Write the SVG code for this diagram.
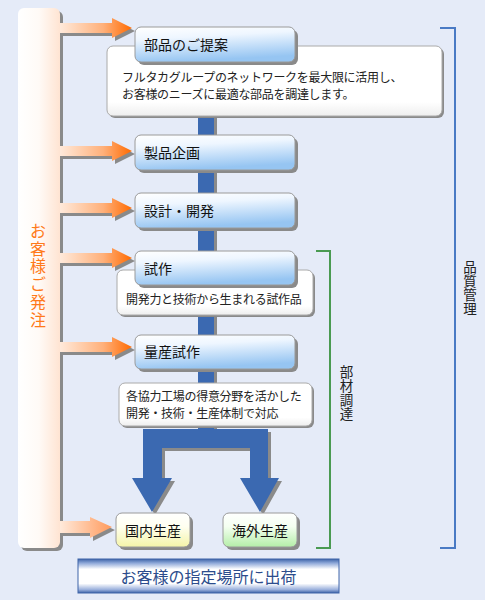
<svg xmlns="http://www.w3.org/2000/svg" xmlns:xlink="http://www.w3.org/1999/xlink" width="485" height="600" viewBox="0 0 485 600">
<defs>
<linearGradient id="gBar" x1="0" y1="0" x2="1" y2="0"><stop offset="0" stop-color="#ffffff"/><stop offset="0.5" stop-color="#fffaf6"/><stop offset="1" stop-color="#ffe4d2"/></linearGradient>
<linearGradient id="gArr" gradientUnits="userSpaceOnUse" x1="60" y1="0" x2="132" y2="0"><stop offset="0" stop-color="#ffeadb"/><stop offset="0.6" stop-color="#ffb07a"/><stop offset="1" stop-color="#ff6a00"/></linearGradient>
<linearGradient id="gArr2" gradientUnits="userSpaceOnUse" x1="60" y1="0" x2="112" y2="0"><stop offset="0" stop-color="#ffeadb"/><stop offset="1" stop-color="#ff9a5c"/></linearGradient>
<linearGradient id="gBox" x1="0" y1="0" x2="0.25" y2="1"><stop offset="0" stop-color="#ffffff"/><stop offset="0.35" stop-color="#eef6ff"/><stop offset="1" stop-color="#96c5f2"/></linearGradient>
<linearGradient id="gDesc" x1="0" y1="0" x2="0" y2="1"><stop offset="0" stop-color="#ffffff"/><stop offset="0.8" stop-color="#ffffff"/><stop offset="1" stop-color="#eeeeee"/></linearGradient>
<linearGradient id="gYel" x1="0" y1="0" x2="0" y2="1"><stop offset="0" stop-color="#ffffff"/><stop offset="0.4" stop-color="#fffff0"/><stop offset="1" stop-color="#f4f4a8"/></linearGradient>
<linearGradient id="gGrn" x1="0" y1="0" x2="0" y2="1"><stop offset="0" stop-color="#ffffff"/><stop offset="0.4" stop-color="#f4fff0"/><stop offset="1" stop-color="#b4eea8"/></linearGradient>
<linearGradient id="gBan" x1="0" y1="0" x2="0" y2="1"><stop offset="0" stop-color="#3e64a8"/><stop offset="0.12" stop-color="#8ea8d8"/><stop offset="0.3" stop-color="#ffffff"/><stop offset="0.72" stop-color="#ffffff"/><stop offset="0.9" stop-color="#9ab0dc"/><stop offset="1" stop-color="#3e64a8"/></linearGradient>
<path id="arr" d="M60,-5 H112 V-10 L132,0 L112,10 V5 H60 Z"/>
<path id="flow" d="M198,60 V429 H143 V478 H132 L152,512 L172,478 H162 V448 H250 V478 H240 L260,512 L279,478 H268 V429 H214 V60 Z"/>
</defs>
<style>
.box{fill:url(#gBox);stroke:#9a9a9a;stroke-width:1}
.desc{fill:url(#gDesc);stroke:#aaaaaa;stroke-width:1}
.sh{fill:#8a8a8a}
.lbl{font-family:"Noto Sans CJK JP",sans-serif;font-size:14px;fill:#111}
.dt{font-family:"Noto Sans CJK JP",sans-serif;font-size:12px;letter-spacing:-0.3px;fill:#222}
.vt{font-family:"Noto Sans CJK JP",sans-serif;font-size:13.5px;fill:#222;text-anchor:middle}
.ord{font-family:"Noto Sans CJK JP",sans-serif;font-size:16px;fill:#ff7a1a;text-anchor:middle}
</style>
<rect width="485" height="600" fill="#e5ebf8"/>

<g id="connectors">
<use xlink:href="#flow" href="#flow" x="3" y="3" fill="#8a8a8a"/>
<use xlink:href="#flow" href="#flow" fill="#3b69b1"/>
</g>

<g id="order">
<rect x="21" y="11" width="42" height="540" rx="6" class="sh"/>
<rect x="18" y="8" width="42" height="540" rx="6" fill="url(#gBar)"/>
<use xlink:href="#arr" href="#arr" x="3" y="31" fill="#8a8a8a"/>
<use xlink:href="#arr" href="#arr" y="28" fill="url(#gArr)"/>
<use xlink:href="#arr" href="#arr" x="3" y="154" fill="#8a8a8a"/>
<use xlink:href="#arr" href="#arr" y="151" fill="url(#gArr)"/>
<use xlink:href="#arr" href="#arr" x="3" y="211" fill="#8a8a8a"/>
<use xlink:href="#arr" href="#arr" y="208" fill="url(#gArr)"/>
<use xlink:href="#arr" href="#arr" x="3" y="261" fill="#8a8a8a"/>
<use xlink:href="#arr" href="#arr" y="258" fill="url(#gArr)"/>
<use xlink:href="#arr" href="#arr" x="3" y="350" fill="#8a8a8a"/>
<use xlink:href="#arr" href="#arr" y="347" fill="url(#gArr)"/>
<path d="M63,524 H93 V520 L115,530 L93,541 V536 H63 Z" class="sh"/>
<path d="M60,521 H90 V517 L112,527 L90,538 V533 H60 Z" fill="url(#gArr2)"/>
<text class="ord" x="38" y="237">お</text>
<text class="ord" x="38" y="254.7">客</text>
<text class="ord" x="38" y="272.4">様</text>
<text class="ord" x="38" y="290.1">ご</text>
<text class="ord" x="38" y="307.8">発</text>
<text class="ord" x="38" y="325.5">注</text>
</g>

<g id="desc1">
<rect x="109" y="48" width="335" height="70" rx="6" class="sh"/>
<rect x="107" y="46" width="335" height="70" rx="6" class="desc"/>
<text class="dt" x="122" y="82">フルタカグループのネットワークを最大限に活用し、</text>
<text class="dt" x="122" y="99">お客様のニーズに最適な部品を調達します。</text>
</g>
<g id="step1">
<rect x="138" y="30" width="160" height="35" rx="6" class="sh"/>
<rect x="135" y="27" width="160" height="35" rx="6" class="box"/>
<text class="lbl" x="144" y="50">部品のご提案</text>
</g>
<g id="step2">
<rect x="138" y="138" width="160" height="35" rx="6" class="sh"/>
<rect x="135" y="135" width="160" height="35" rx="6" class="box"/>
<text class="lbl" x="144" y="158">製品企画</text>
</g>
<g id="step3">
<rect x="138" y="196" width="160" height="35" rx="6" class="sh"/>
<rect x="135" y="193" width="160" height="35" rx="6" class="box"/>
<text class="lbl" x="144" y="216">設計・開発</text>
</g>
<g id="desc2">
<rect x="119" y="272" width="196" height="45" rx="6" class="sh"/>
<rect x="117" y="270" width="196" height="45" rx="6" class="desc"/>
<text class="dt" x="126" y="304">開発力と技術から生まれる試作品</text>
</g>
<g id="step4">
<rect x="138" y="254" width="160" height="34" rx="6" class="sh"/>
<rect x="135" y="251" width="160" height="34" rx="6" class="box"/>
<text class="lbl" x="144" y="274">試作</text>
</g>
<g id="step5">
<rect x="138" y="338" width="160" height="34" rx="6" class="sh"/>
<rect x="135" y="335" width="160" height="34" rx="6" class="box"/>
<text class="lbl" x="144" y="357">量産試作</text>
</g>
<g id="desc3">
<rect x="121" y="385" width="193" height="43" rx="6" class="sh"/>
<rect x="119" y="383" width="193" height="43" rx="6" class="desc"/>
<text class="dt" x="126" y="401">各協力工場の得意分野を活かした</text>
<text class="dt" x="126" y="418">開発・技術・生産体制で対応</text>
</g>
<g id="domestic">
<rect x="119" y="516" width="74" height="34" rx="6" class="sh"/>
<rect x="116" y="513" width="74" height="34" rx="6" fill="url(#gYel)" stroke="#9a9a9a"/>
<text class="lbl" x="153" y="536" text-anchor="middle">国内生産</text>
</g>
<g id="overseas">
<rect x="226" y="516" width="74" height="34" rx="6" class="sh"/>
<rect x="223" y="513" width="74" height="34" rx="6" fill="url(#gGrn)" stroke="#9a9a9a"/>
<text class="lbl" x="260" y="536" text-anchor="middle">海外生産</text>
</g>
<g id="shipping">
<rect x="78" y="559" width="261" height="34" fill="url(#gBan)" stroke="#3e64a8" stroke-width="1"/>
<text x="208.5" y="583" text-anchor="middle" font-family="Noto Sans CJK JP, sans-serif" font-size="16" fill="#2c4c8c">お客様の指定場所に出荷</text>
</g>
<g id="procurement">
<polyline points="316,251 330,251 330,548 316,548" fill="none" stroke="#4a9a52" stroke-width="2"/>
<text class="vt" x="346.5" y="377">部</text>
<text class="vt" x="346.5" y="391">材</text>
<text class="vt" x="346.5" y="405">調</text>
<text class="vt" x="346.5" y="419">達</text>
</g>
<g id="quality">
<polyline points="440,28 455,28 455,548 440,548" fill="none" stroke="#4a7ac4" stroke-width="2"/>
<text class="vt" x="470" y="272">品</text>
<text class="vt" x="470" y="286">質</text>
<text class="vt" x="470" y="300">管</text>
<text class="vt" x="470" y="314">理</text>
</g>
</svg>
